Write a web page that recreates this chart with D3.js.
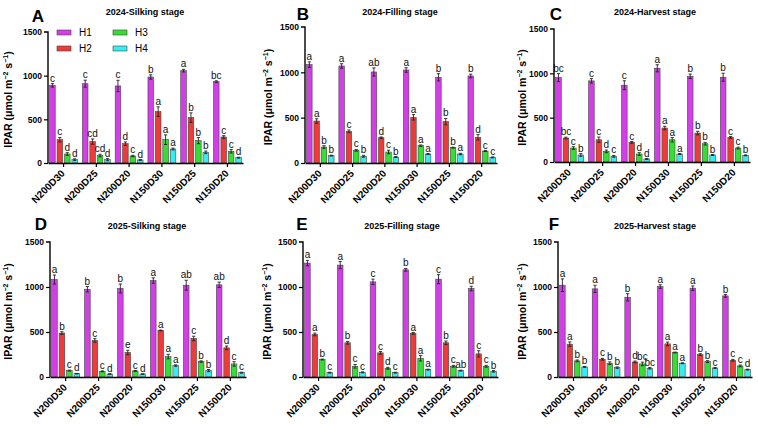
<!DOCTYPE html>
<html><head><meta charset="utf-8">
<script src="https://cdn.jsdelivr.net/npm/d3@7"></script>
<style>body{margin:0;background:#fff}svg{display:block;font-family:"Liberation Sans",Arial,sans-serif}</style>
</head><body><svg id="c" width="758" height="424"></svg>
<script>
const categories = ["N200D30","N200D25","N200D20","N150D30","N150D25","N150D20"];
const seriesNames = ["H1","H2","H3","H4"];
const colors = ["#D23FE6","#EE3A3A","#35DD35","#35EEEE"];
const yTicks = [0,500,1000,1500];

const panelLetters = ["A","B","C","D","E","F"];
const panelTitles = ["2024-Silking stage","2024-Filling stage","2024-Harvest stage","2025-Silking stage","2025-Filling stage","2025-Harvest stage"];

// values[panel][category] = [H1,H2,H3,H4]
const valuesA = [[889,267,103,38],[908,245,85,38],[882,221,80,35],[985,588,267,160],[1057,519,256,122],[931,298,134,61]];
const errorsA = [[20,25,15,10],[40,30,15,12],[65,20,8,5],[25,55,55,10],[15,55,35,15],[10,15,20,5]];
const lettersA = [["c","c","d","d"],["c","cd","cd","d"],["c","d","c","d"],["b","a","a","a"],["a","b","b","b"],["bc","c","c","d"]];

const valuesB = [[1085,463,176,81],[1070,349,140,74],[1004,279,121,66],[1026,504,191,99],[945,456,169,99],[960,283,132,62]];
const errorsB = [[30,25,15,5],[25,15,10,10],[45,8,20,5],[25,30,8,5],[40,35,5,8],[20,30,5,5]];
const lettersB = [["a","a","b","b"],["a","c","c","b"],["ab","d","c","b"],["a","a","a","a"],["b","b","b","a"],["b","d","c","c"]];

const valuesC = [[952,270,157,79],[915,251,120,64],[866,221,90,34],[1057,383,251,90],[967,326,206,79],[956,277,157,75]];
const errorsC = [[45,10,15,15],[25,30,15,10],[50,10,15,5],[40,20,25,5],[25,20,15,5],[45,10,10,5]];
const lettersC = [["bc","bc","c","b"],["c","c","d","c"],["c","c","d","d"],["a","a","a","a"],["b","b","b","b"],["b","c","c","b"]];

const valuesD = [[1083,488,71,37],[975,406,63,33],[983,272,67,33],[1072,517,227,127],[1020,428,171,71],[1024,324,145,48]];
const errorsD = [[50,15,5,3],[30,20,5,3],[50,25,5,3],[30,5,25,8],[55,25,8,12],[30,20,25,5]];
const lettersD = [["a","b","c","d"],["b","c","c","d"],["b","e","c","d"],["a","a","a","a"],["ab","c","b","b"],["ab","d","c","c"]];

const valuesE = [[1266,473,194,48],[1243,380,119,52],[1057,268,97,48],[1191,484,208,82],[1087,380,119,71],[983,257,119,63]];
const errorsE = [[30,15,5,5],[40,15,20,5],[30,15,10,5],[15,10,30,5],[50,20,10,5],[25,35,10,8]];
const lettersE = [["a","a","b","c"],["a","b","c","c"],["c","c","d","c"],["b","a","a","a"],["c","b","c","ab"],["d","c","c","b"]];

const valuesF = [[1020,365,179,112],[979,197,153,104],[886,167,145,97],[1005,368,272,153],[987,249,171,100],[901,186,123,82]];
const errorsF = [[70,25,10,5],[40,10,15,8],[40,10,20,8],[20,20,5,5],[25,10,10,5],[15,10,10,5]];
const lettersF = [["a","a","b","b"],["a","c","b","b"],["b","d","bc","bc"],["a","a","a","a"],["a","b","b","c"],["b","c","c","d"]];

const allValues = [valuesA,valuesB,valuesC,valuesD,valuesE,valuesF];
const allErrors = [errorsA,errorsB,errorsC,errorsD,errorsE,errorsF];
const allLetters = [lettersA,lettersB,lettersC,lettersD,lettersE,lettersF];

// layout
const layout = [
  {x0:48,x1:243,yb:163,yt:32,lab:12,lx:38,ly:22,tx:145,ty:15},
  {x0:305,x1:497,yb:163,yt:27,lab:272,lx:303,ly:20,tx:400,ty:15},
  {x0:554,x1:750,yb:162,yt:29,lab:526,lx:556,ly:20,tx:655,ty:15},
  {x0:50,x1:246,yb:377,yt:242,lab:12,lx:41,ly:230,tx:147,ty:229},
  {x0:303,x1:498,yb:377,yt:242,lab:271,lx:302,ly:230,tx:402,ty:229},
  {x0:558,x1:752,yb:377,yt:242,lab:526,lx:554,ly:230,tx:655,ty:229}
];

const svg = d3.select("#c");

layout.forEach((L,pi)=>{
  const g = svg.append("g");
  const x = d3.scaleBand().domain(categories).range([L.x0, L.x1]).paddingInner(0.15).paddingOuter(0.05);
  const xs = d3.scaleBand().domain(seriesNames).range([0, x.bandwidth()]).paddingInner(0.25);
  const y = d3.scaleLinear().domain([0,1500]).range([L.yb, L.yt]);
  const vals = allValues[pi], errs = allErrors[pi], lets = allLetters[pi];

  const grp = g.selectAll("g.cat").data(categories).join("g").attr("transform",d=>`translate(${x(d)},0)`);
  grp.each(function(cat,ci){
    const gg = d3.select(this);
    seriesNames.forEach((s,si)=>{
      const v = vals[ci][si], e = errs[ci][si];
      const bx = xs(s), bw = xs.bandwidth(), cx = bx + bw/2;
      gg.append("rect").attr("x",bx).attr("y",y(v)).attr("width",bw).attr("height",y(0)-y(v))
        .attr("fill",colors[si]).attr("stroke","#444").attr("stroke-width",0.6);
      const eb = gg.append("g").attr("stroke","#222").attr("stroke-width",0.9);
      eb.append("line").attr("x1",cx).attr("x2",cx).attr("y1",y(v-e)).attr("y2",y(v+e));
      eb.append("line").attr("x1",cx-1.6).attr("x2",cx+1.6).attr("y1",y(v+e)).attr("y2",y(v+e));
      eb.append("line").attr("x1",cx-1.6).attr("x2",cx+1.6).attr("y1",y(v-e)).attr("y2",y(v-e));
      gg.append("text").attr("x",cx).attr("y",y(v+e)-2).attr("text-anchor","middle")
        .attr("font-size",10).attr("fill","#111").text(lets[ci][si]);
    });
  });

  // axes
  const yAxis = d3.axisLeft(y).tickValues(yTicks).tickFormat(d3.format("d")).tickSize(4).tickPadding(2);
  const ya = g.append("g").attr("transform",`translate(${L.x0},0)`).call(yAxis);
  ya.select(".domain").attr("stroke","#000").attr("stroke-width",1.4).attr("d",`M-4,${y(1500)}H0V${y(0)}`);
  ya.selectAll(".tick line").attr("stroke","#000").attr("stroke-width",1.2);
  ya.selectAll(".tick text").attr("font-size",8.5).attr("font-weight","bold").attr("fill","#000")
    .attr("font-family","Liberation Sans, Arial, sans-serif");
  ya.selectAll(".tick").filter(d=>d===1500).select("line").remove();

  const xAxis = d3.axisBottom(x).tickSize(4).tickSizeOuter(0);
  const xa = g.append("g").attr("transform",`translate(0,${L.yb})`).call(xAxis);
  xa.select(".domain").attr("stroke","#000").attr("stroke-width",1.4);
  xa.selectAll(".tick line").attr("stroke","#000").attr("stroke-width",1.2);
  xa.selectAll(".tick text").attr("font-size",10).attr("font-weight","bold").attr("fill","#000")
    .attr("font-family","Liberation Sans, Arial, sans-serif")
    .attr("text-anchor","end").attr("dy",null).attr("y",0)
    .attr("transform","translate(2,11) rotate(-45)");

  // y label
  const yl = g.append("text").attr("transform",`translate(${L.lab},${(L.yb+L.yt)/2+2}) rotate(-90)`)
    .attr("text-anchor","middle").attr("font-size",10.5).attr("font-weight","bold").attr("fill","#000");
  yl.append("tspan").text("IPAR (μmol m");
  yl.append("tspan").attr("font-size",7).attr("dy",-4).text("−2");
  yl.append("tspan").attr("dy",4).text(" s");
  yl.append("tspan").attr("font-size",7).attr("dy",-4).text("−1");
  yl.append("tspan").attr("dy",4).text(")");

  // panel letter and title
  g.append("text").attr("x",L.lx).attr("y",L.ly).attr("text-anchor","middle").attr("font-size",17)
    .attr("font-weight","bold").attr("fill","#000").text(panelLetters[pi]);
  g.append("text").attr("x",L.tx).attr("y",L.ty).attr("text-anchor","middle").attr("font-size",9)
    .attr("font-weight","bold").attr("fill","#000").text(panelTitles[pi]);
});

// legend (panel A)
const leg = svg.append("g");
seriesNames.forEach((s,i)=>{
  const col = i<2 ? 0 : 1, row = i%2;
  const lx = 57 + col*56, ly = 30 + row*16;
  leg.append("rect").attr("x",lx).attr("y",ly).attr("width",14).attr("height",5)
    .attr("fill",colors[i]).attr("stroke","#444").attr("stroke-width",0.6);
  leg.append("text").attr("x",lx+22).attr("y",ly+6).attr("font-size",10).attr("fill","#000").text(s);
});
</script></body></html>
